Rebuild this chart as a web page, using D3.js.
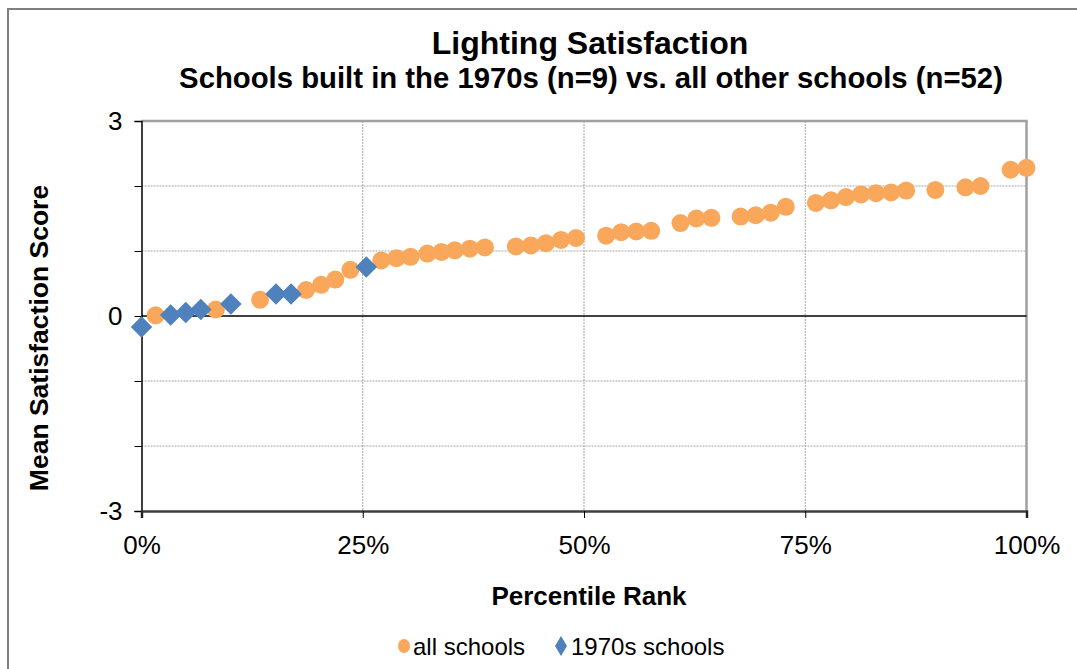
<!DOCTYPE html>
<html>
<head>
<meta charset="utf-8">
<script src="https://cdn.jsdelivr.net/npm/d3@7"></script>
<style>
  body { margin: 0; background: #fff; }
  svg { display: block; font-family: Arial, "Liberation Sans", sans-serif; }
</style>
</head>
<body>
<div id="chart"></div>
<script>
// all schools (orange circles): percentile rank (%) and mean score
var allPct = [1.6, 8.4, 13.4, 18.6, 20.3, 21.9, 23.6, 27.1, 28.8, 30.4, 32.3, 33.9, 35.4, 37.1, 38.8,
  42.3, 44.0, 45.7, 47.4, 49.1, 52.5, 54.2, 55.9, 57.6, 60.9, 62.7, 64.4, 67.7, 69.4, 71.1, 72.8,
  76.2, 77.9, 79.6, 81.3, 83.0, 84.7, 86.4, 89.7, 93.1, 94.8, 98.2, 100];
var allScore = [0.01, 0.10, 0.25, 0.40, 0.48, 0.56, 0.71, 0.855, 0.89, 0.91, 0.96, 0.985, 1.01, 1.035, 1.055,
  1.07, 1.085, 1.12, 1.17, 1.20, 1.235, 1.29, 1.30, 1.31, 1.43, 1.50, 1.51, 1.53, 1.55, 1.59, 1.68,
  1.74, 1.78, 1.83, 1.87, 1.89, 1.90, 1.93, 1.94, 1.98, 2.00, 2.25, 2.28];

// 1970s schools (blue diamonds)
var s70Pct = [0, 3.3, 5.0, 6.7, 10.1, 15.2, 16.9, 25.4];
var s70Score = [-0.17, 0.015, 0.055, 0.10, 0.185, 0.34, 0.34, 0.755];

var xTicks = [0, 25, 50, 75, 100];
var yTicks = [-3, -2, -1, 0, 1, 2, 3];
var yLabels = [-3, 0, 3];

var width = 1077, height = 669;
var plotL = 141.5, plotR = 1026.5, plotT = 121, plotB = 511;

var svg = d3.select("#chart").append("svg")
    .attr("width", width)
    .attr("height", height);

// outer frame (only left and top edges are in view)
svg.append("path")
    .attr("d", "M8,669 L8,9 L1077,9")
    .attr("fill", "none")
    .attr("stroke", "#7f7f7f")
    .attr("stroke-width", 2);

var x = d3.scaleLinear().domain([0, 100]).range([plotL, plotR]);
var y = d3.scaleLinear().domain([-3, 3]).range([plotB, plotT]);

// gridlines
svg.append("g")
    .selectAll("line")
    .data(yTicks.filter(function (d) { return d !== 0 && d !== -3 && d !== 3; }))
    .enter().append("line")
    .attr("x1", plotL).attr("x2", plotR)
    .attr("y1", function (d) { return y(d); })
    .attr("y2", function (d) { return y(d); })
    .attr("stroke", "#a6a6a6")
    .attr("stroke-dasharray", "2,1");

svg.append("g")
    .selectAll("line")
    .data([25, 50, 75])
    .enter().append("line")
    .attr("x1", function (d) { return x(d); })
    .attr("x2", function (d) { return x(d); })
    .attr("y1", plotT).attr("y2", plotB)
    .attr("stroke", "#a6a6a6")
    .attr("stroke-dasharray", "2,1");

// plot frame top and right
svg.append("path")
    .attr("d", "M" + plotL + "," + plotT + " L" + plotR + "," + plotT + " L" + plotR + "," + plotB)
    .attr("fill", "none")
    .attr("stroke", "#a0a0a0")
    .attr("stroke-width", 2.5);

// y axis
var yAxis = d3.axisLeft(y)
    .tickValues(yTicks)
    .tickSize(7)
    .tickPadding(12)
    .tickFormat(function (d) { return yLabels.indexOf(d) >= 0 ? d : ""; });

var gy = svg.append("g")
    .attr("transform", "translate(" + plotL + ",0)")
    .call(yAxis);
gy.select(".domain").attr("stroke", "#000").attr("stroke-width", 1.5);
gy.selectAll(".tick line").attr("stroke", "#000");
gy.selectAll("text")
    .attr("font-family", "Arial, 'Liberation Sans', sans-serif")
    .attr("font-size", 26)
    .attr("fill", "#000");

// x axis at bottom
var xAxis = d3.axisBottom(x)
    .tickValues(xTicks)
    .tickSize(7)
    .tickPadding(18)
    .tickFormat(function (d) { return d + "%"; });

var gx = svg.append("g")
    .attr("transform", "translate(0," + plotB + ")")
    .call(xAxis);
gx.select(".domain").attr("stroke", "#404040").attr("stroke-width", 2.5);
gx.selectAll(".tick line").attr("stroke", "#000");
gx.selectAll("text")
    .attr("font-family", "Arial, 'Liberation Sans', sans-serif")
    .attr("font-size", 26)
    .attr("fill", "#000");

// zero line
svg.append("line")
    .attr("x1", plotL).attr("x2", plotR)
    .attr("y1", y(0)).attr("y2", y(0))
    .attr("stroke", "#000")
    .attr("stroke-width", 1.5);

// points
var orange = "#f9a75b", blue = "#4f81bd";
var allData = allPct.map(function (p, i) { return { p: p, s: allScore[i] }; });
var s70Data = s70Pct.map(function (p, i) { return { p: p, s: s70Score[i] }; });

svg.append("g")
    .selectAll("circle")
    .data(allData)
    .enter().append("circle")
    .attr("cx", function (d) { return x(d.p); })
    .attr("cy", function (d) { return y(d.s); })
    .attr("r", 9)
    .attr("fill", orange);

var diamond = d3.symbol().type(d3.symbolSquare).size(232);
svg.append("g")
    .selectAll("path")
    .data(s70Data)
    .enter().append("path")
    .attr("d", diamond)
    .attr("transform", function (d) {
        return "translate(" + x(d.p) + "," + y(d.s) + ") rotate(45)";
    })
    .attr("fill", blue);

// titles
svg.append("text")
    .attr("x", 590).attr("y", 54)
    .attr("text-anchor", "middle")
    .attr("font-size", 32).attr("font-weight", "bold")
    .text("Lighting Satisfaction");

svg.append("text")
    .attr("x", 591).attr("y", 88)
    .attr("text-anchor", "middle")
    .attr("font-size", 29.3).attr("font-weight", "bold")
    .text("Schools built in the 1970s (n=9) vs. all other schools (n=52)");

svg.append("text")
    .attr("x", 589).attr("y", 605)
    .attr("text-anchor", "middle")
    .attr("font-size", 26).attr("font-weight", "bold")
    .text("Percentile Rank");

svg.append("text")
    .attr("transform", "translate(48,338) rotate(-90)")
    .attr("text-anchor", "middle")
    .attr("font-size", 26.5).attr("font-weight", "bold")
    .text("Mean Satisfaction Score");

// legend
var legend = svg.append("g").attr("transform", "translate(0,646)");
legend.append("ellipse")
    .attr("cx", 404).attr("cy", 0)
    .attr("rx", 6).attr("ry", 7)
    .attr("fill", orange);
legend.append("text")
    .attr("x", 413).attr("y", 9)
    .attr("font-size", 24)
    .text("all schools");
legend.append("path")
    .attr("d", "M561,-10 L567,0 L561,10 L555,0 Z")
    .attr("fill", blue);
legend.append("text")
    .attr("x", 571).attr("y", 9)
    .attr("font-size", 24)
    .text("1970s schools");
</script>
</body>
</html>
